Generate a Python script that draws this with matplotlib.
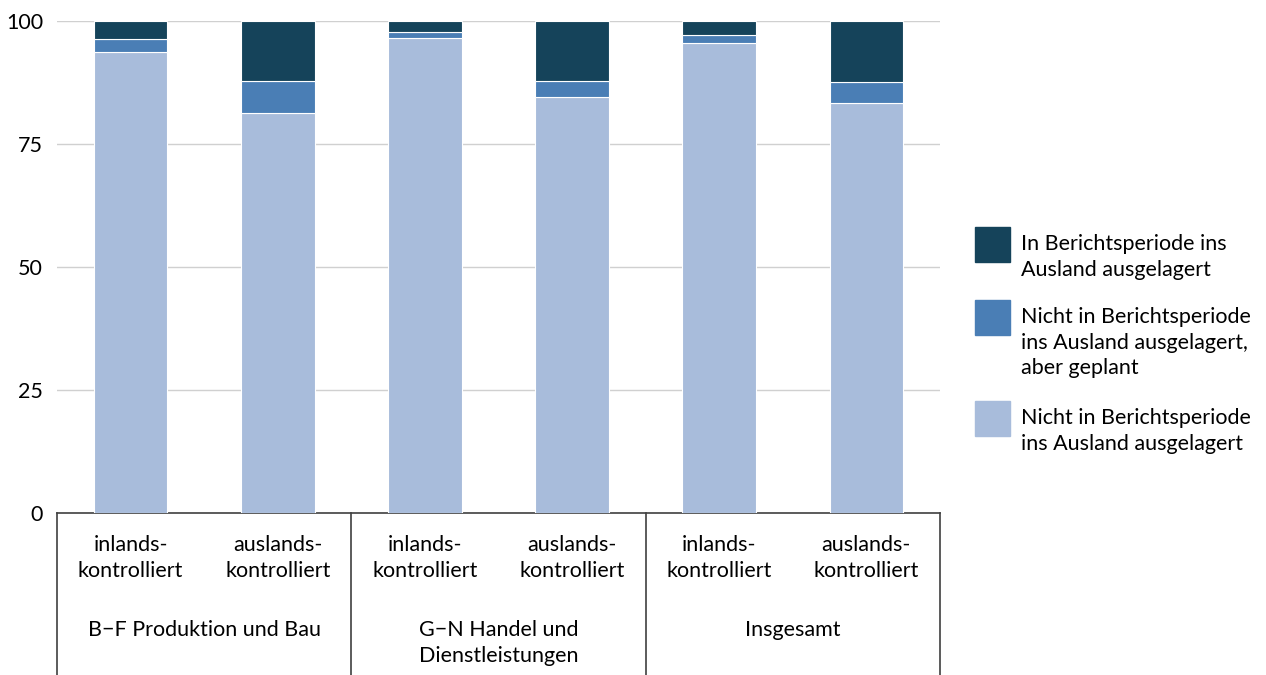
import matplotlib.pyplot as plt
from matplotlib.patches import Rectangle
import numpy as np

# values (percent)
categories = ["inlands-\nkontrolliert", "auslands-\nkontrolliert"] * 3
groups = ["B\u2212F Produktion und Bau", "G\u2212N Handel und\nDienstleistungen", "Insgesamt"]
nicht_ausgelagert = [93.8, 81.3, 96.5, 84.6, 95.5, 83.4]
geplant = [2.6, 6.5, 1.2, 3.2, 1.7, 4.3]
ausgelagert = [3.6, 12.2, 2.3, 12.2, 2.8, 12.3]

labels = ["Nicht in Berichtsperiode\nins Ausland ausgelagert",
          "Nicht in Berichtsperiode\nins Ausland ausgelagert,\naber geplant",
          "In Berichtsperiode ins\nAusland ausgelagert"]
colors = ["#a8bcdb", "#4a7eb5", "#15435a"]

plt.rcParams['font.family'] = ['Lato', 'DejaVu Sans']
FS = 15.5
LS = 1.35

W, H = 1266, 675
fig = plt.figure(figsize=(W / 100, H / 100), dpi=100)
ax = fig.add_axes([57 / W, 162 / H, 883 / W, 492 / H])

x = np.arange(len(categories))
bottom = np.zeros(len(categories))
for vals, col, lab in zip([nicht_ausgelagert, geplant, ausgelagert], colors, labels):
    ax.bar(x, vals, width=0.5, bottom=bottom, color=col, edgecolor="white",
           linewidth=0.8, label=lab, zorder=3)
    bottom += np.array(vals)

ax.set_xlim(-0.5, len(categories) - 0.5)
ax.set_ylim(0, 100)
ax.set_yticks([0, 25, 50, 75, 100])
ax.tick_params(axis='y', length=0, pad=10, labelsize=FS)
ax.grid(axis='y', color="#d0d0d0", linewidth=1, zorder=0)
for s in ["left", "right", "top"]:
    ax.spines[s].set_visible(False)
ax.spines["bottom"].set_color("#404040")
ax.spines["bottom"].set_linewidth(1.2)

ax.set_xticks(x)
ax.set_xticklabels(categories, fontsize=FS, linespacing=LS)
ax.tick_params(axis='x', length=0, pad=16)

# group labels and box lines below the axis
for i, g in enumerate(groups):
    ax.annotate(g, xy=(2 * i + 0.5, 0), xycoords=('data', 'axes fraction'),
                xytext=(0, -77), textcoords='offset points', ha='center', va='top',
                fontsize=FS, linespacing=LS, annotation_clip=False)
for xs in [-0.5, 1.5, 3.5, 5.5]:
    ax.plot([xs, xs], [0, -0.4], color="#404040", linewidth=1.2,
            transform=ax.get_xaxis_transform(), clip_on=False)

# legend, drawn by hand so the squares sit at the first text line
leg_tops = [227, 300, 401]
for top, col, lab in zip(leg_tops, colors[::-1], labels[::-1]):
    fig.patches.append(Rectangle((975 / W, 1 - (top + 35) / H), 35 / W, 35 / H,
                                 transform=fig.transFigure, color=col))
    fig.text(1021 / W, 1 - (top + 7) / H, lab, ha='left', va='top',
             fontsize=FS, linespacing=LS)

fig.savefig("out.png", dpi=100)
